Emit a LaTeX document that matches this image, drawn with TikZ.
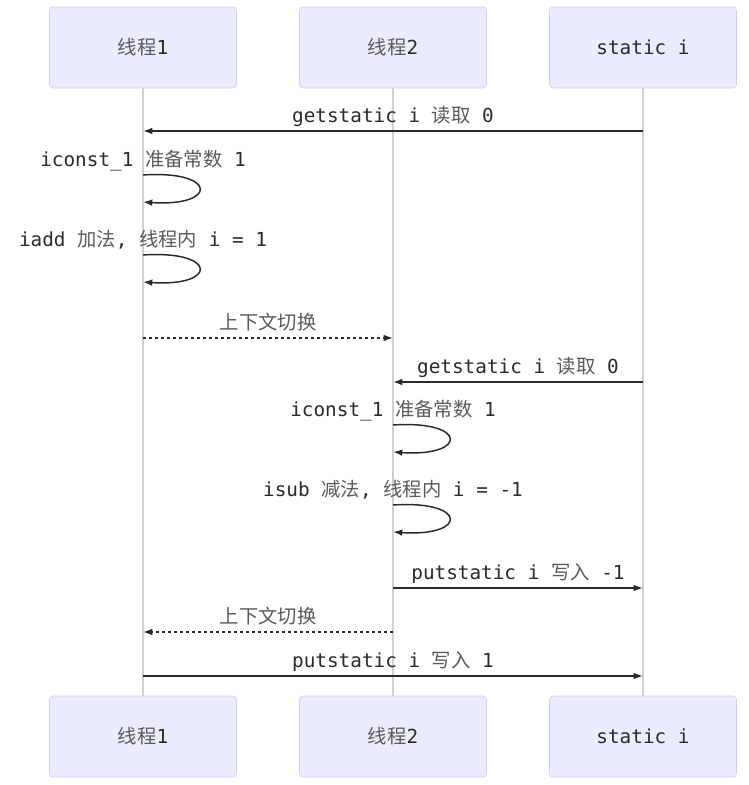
\documentclass[tikz,border=0pt]{standalone}
\usepackage{fontspec}
\setmainfont{DejaVu Sans Mono}
\newfontfamily\cjkfont{Noto Sans CJK SC}
\usetikzlibrary{arrows.meta}
\definecolor{actorfill}{HTML}{ECECFF}
\definecolor{actorline}{HTML}{CCCCFF}
\definecolor{txt}{HTML}{2A2A2A}
\definecolor{cjktxt}{HTML}{5A5A5A}
\definecolor{lifeline}{HTML}{D0D0D0}
\newcommand{\zh}[1]{{\cjkfont\color{cjktxt}#1}}

\begin{document}
\begin{tikzpicture}[x=0.75pt,y=-0.75pt,
  actor/.style={draw=actorline,fill=actorfill,rounded corners=2.5pt,
    minimum width=140.25pt,minimum height=60.75pt,inner sep=0,
    text=txt,font=\fontsize{14.5}{16}\selectfont},
  life/.style={draw=lifeline,line width=0.8pt},
  msg/.style={draw=txt,line width=1.1pt,-{Latex[length=7pt,width=5pt]}},
  sw/.style={msg,dash pattern=on 2.5pt off 2pt},
  lbl/.style={text=txt,inner sep=0,text height=11pt,text depth=3pt,
    font=\fontsize{14.5}{16}\selectfont}]
\useasboundingbox[fill=white] (0,0) rectangle (749,785);
% participants
\foreach \i/\x/\name in {1/143/{\zh{线程}1},2/393/{\zh{线程}2},3/643/{static i}} {
  \node[actor] (t\i) at (\x,47.5) {\name};
  \node[actor] (b\i) at (\x,736.5) {\name};
  \draw[life] (t\i.south) -- (b\i.north);
}
% messages between lifelines
\foreach \n/\xa/\xb/\y/\s/\t in {
  1/643/143/131/msg/{getstatic i \zh{读取} 0},
  4/143/393/338/sw/{\zh{上下文切换}},
  5/643/393/382/msg/{getstatic i \zh{读取} 0},
  8/393/643/588/msg/{putstatic i \zh{写入} -1},
  9/393/143/632/sw/{\zh{上下文切换}},
  10/143/643/676/msg/{putstatic i \zh{写入} 1}} {
  \coordinate (m\n a) at (\xa,\y);
  \coordinate (m\n b) at (\xb,\y);
  \draw[\s] (m\n a) -- node[lbl,yshift=10.5pt] (l\n) {\t} (m\n b);
}
% self calls
\foreach \n/\x/\y/\t in {
  2/143/175/{iconst\_1 \zh{准备常数} 1},
  3/143/255/{iadd \zh{加法}, \zh{线程内} i = 1},
  6/393/425/{iconst\_1 \zh{准备常数} 1},
  7/393/505/{isub \zh{减法}, \zh{线程内} i = -1}} {
  \coordinate (m\n a) at (\x,\y);
  \coordinate (m\n b) at (\x,\y+27);
  \node[lbl] (l\n) at (\x,\y-14) {\t};
  \draw[msg] (m\n a) .. controls +(75,-5) and +(75,5) .. (m\n b);
}
\end{tikzpicture}
\end{document}
